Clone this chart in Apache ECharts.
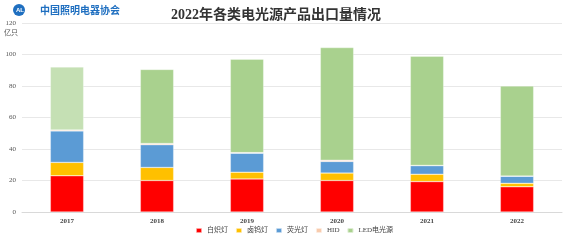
<!DOCTYPE html>
<html>
<head>
<meta charset="utf-8">
<script src="https://cdn.jsdelivr.net/npm/echarts@6/dist/echarts.min.js"></script>
<style>
  html, body { margin: 0; padding: 0; background: #fff; }
  #chart { width: 569px; height: 242px; }
</style>
</head>
<body>
<div id="chart"></div>
<script>
// 年份
var years = ['2017', '2018', '2019', '2020', '2021', '2022'];
// 各类电光源出口量（亿只）
var incandescent = [23, 20, 21, 20, 19.3, 16];
var halogen = [8.5, 8.3, 4.3, 4.7, 4.7, 2.2];
var fluorescent = [20, 14.4, 12, 7.4, 5.4, 4.5];
var hid = [0.6, 0.8, 0.4, 0.8, 0.2, 0.1];
var led = [40, 47, 59.3, 71.5, 69.3, 57.2];
var yTicks = [0, 20, 40, 60, 80, 100, 120];

var serif = '"Liberation Serif", "DejaVu Serif", "Noto Sans CJK SC", serif';
var myChart = echarts.init(document.getElementById('chart'));

function bar(name, data, color) {
    return {
        name: name,
        type: 'bar',
        stack: 'total',
        barWidth: '37%',
        data: data,
        itemStyle: { color: color, borderColor: 'rgba(255,255,255,0.6)', borderWidth: 0.5 }
    };
}

var ledSeries = bar('LED电光源', led.map(function (v, i) {
    return i === 0 ? { value: v, itemStyle: { color: '#c5e0b4' } } : v;
}), '#a9d18e');

myChart.setOption({
    animation: false,
    title: {
        text: '2022年各类电光源产品出口量情况',
        left: 166,
        top: 3,
        textStyle: { fontFamily: serif, fontSize: 14, fontWeight: 'bold', color: '#333' }
    },
    graphic: [
        { type: 'circle', left: 13, top: 4, shape: { r: 6 }, style: { fill: '#1f6fc0' } },
        { type: 'text', left: 16, top: 7, style: { text: 'AL', fill: '#fff', font: 'bold 6px sans-serif' } },
        { type: 'text', left: 40, top: 5, style: { text: '中国照明电器协会', fill: '#1f6fc0', font: 'bold 10px "Noto Sans CJK SC"' } },
        { type: 'text', left: 4, top: 29, style: { text: '亿只', fill: '#555', font: '7px "Noto Sans CJK SC"' } }
    ],
    legend: {
        bottom: 3,
        left: 190,
        itemWidth: 6,
        itemHeight: 5,
        itemGap: 7,
        textStyle: { fontFamily: serif, fontSize: 7, color: '#444' },
        data: ['白炽灯', '卤钨灯', '荧光灯', 'HID', 'LED电光源']
    },
    grid: { left: 22, right: 7, top: 23, bottom: 30 },
    xAxis: {
        type: 'category',
        data: years,
        axisLine: { lineStyle: { color: '#d9d9d9' } },
        axisTick: { show: false },
        axisLabel: { fontFamily: serif, fontSize: 7, fontWeight: 'bold', color: '#444', margin: 6 }
    },
    yAxis: {
        type: 'value',
        min: yTicks[0],
        max: yTicks[yTicks.length - 1],
        interval: 20,
        axisLabel: { fontFamily: serif, fontSize: 7, color: '#555', margin: 6 },
        splitLine: { lineStyle: { color: '#e8e8e8' } }
    },
    series: [
        bar('白炽灯', incandescent, '#ff0000'),
        bar('卤钨灯', halogen, '#ffc000'),
        bar('荧光灯', fluorescent, '#5b9bd5'),
        bar('HID', hid, '#f8cbad'),
        ledSeries
    ]
});
</script>
</body>
</html>
